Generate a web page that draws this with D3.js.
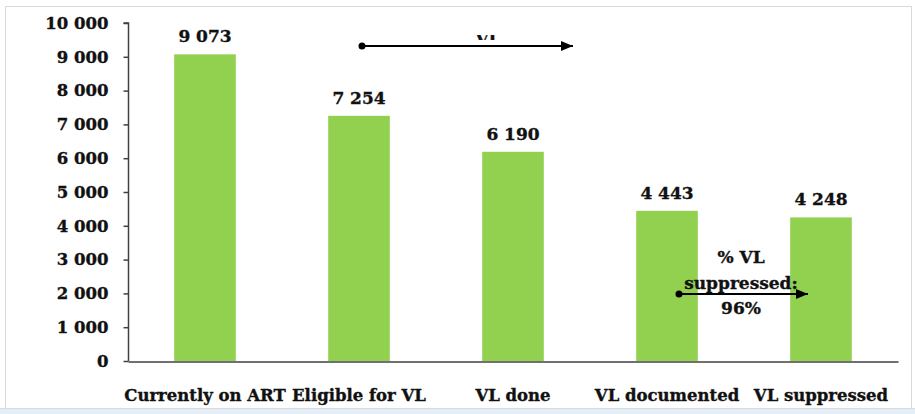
<!DOCTYPE html>
<html>
<head>
<meta charset="utf-8">
<script src="https://cdn.jsdelivr.net/npm/d3@7"></script>
<style>
  html, body { margin: 0; padding: 0; background: #ffffff; }
  svg { display: block; }
  text { font-family: "DejaVu Serif", "Liberation Serif", serif; font-weight: bold; fill: #111; stroke: #111; stroke-width: 0.35px; }
</style>
</head>
<body>
<svg id="chart" width="915" height="414"></svg>
<script>
// Viral load cascade
const categories = ["Currently on ART", "Eligible for VL", "VL done", "VL documented", "VL suppressed"];
const values = [9073, 7254, 6190, 4443, 4248];
const yTicks = [0, 1000, 2000, 3000, 4000, 5000, 6000, 7000, 8000, 9000, 10000];
const suppressionNote = ["% VL", "suppressed:", "96%"];

const svg = d3.select("#chart");
const W = 915, H = 414;

// Outer frame and the light strip below it
svg.append("rect").attr("x", 0).attr("y", 408).attr("width", W).attr("height", H - 408)
  .attr("fill", "#e4eef8");
svg.append("line").attr("x1", 0).attr("x2", W).attr("y1", 408.5).attr("y2", 408.5)
  .attr("stroke", "#d4dce6");
svg.append("rect").attr("x", 5.5).attr("y", 6.5).attr("width", 906).attr("height", 402)
  .attr("fill", "none").attr("stroke", "#d9d9d9");

const x = d3.scaleBand().domain(categories).range([128, 898]).paddingInner(0.6).paddingOuter(0.3);
const y = d3.scaleLinear().domain([0, 10000]).range([361, 23]);

const fmt = d3.formatLocale({ decimal: ".", thousands: " ", grouping: [3], currency: ["", ""] }).format(",d");

// Bars
svg.append("g").selectAll("rect").data(values).join("rect")
  .attr("x", (d, i) => x(categories[i]))
  .attr("y", d => y(d))
  .attr("width", x.bandwidth())
  .attr("height", d => y(0) - y(d))
  .attr("fill", "#92d050");

// Y axis
const yAxis = svg.append("g").attr("transform", "translate(128.5,0)")
  .call(d3.axisLeft(y).tickValues(yTicks).tickFormat(fmt).tickSize(5).tickPadding(15));
yAxis.select(".domain").attr("stroke", "#404040").attr("stroke-width", 1.5).attr("d", `M-5,${y(10000)}H0V${y(0)}`);
yAxis.selectAll(".tick line").attr("stroke", "#404040").attr("stroke-width", 1.5);
yAxis.selectAll(".tick text").style("font-size", "16.5px").attr("fill", "#111")
  .style("font-family", "DejaVu Serif").style("font-weight", "bold");

// X axis
const xAxis = svg.append("g").attr("transform", `translate(0,${y(0) + 0.5})`)
  .call(d3.axisBottom(x).tickSize(0).tickPadding(28));
xAxis.select(".domain").attr("stroke", "#404040").attr("stroke-width", 1.5);
xAxis.selectAll(".tick text").style("font-size", "16.5px").attr("fill", "#111")
  .style("font-family", "DejaVu Serif").style("font-weight", "bold");

// Value labels
svg.append("g").selectAll("text").data(values).join("text")
  .attr("x", (d, i) => x(categories[i]) + x.bandwidth() / 2)
  .attr("y", d => y(d) - 12)
  .attr("text-anchor", "middle")
  .style("font-size", "17px")
  .text(d => fmt(d));

// Arrow marker
const defs = svg.append("defs");
defs.append("marker").attr("id", "arrowhead")
  .attr("viewBox", "0 0 12 10").attr("refX", 12).attr("refY", 5)
  .attr("markerWidth", 12).attr("markerHeight", 10).attr("markerUnits", "userSpaceOnUse")
  .attr("orient", "auto")
  .append("path").attr("d", "M0,0L12,5L0,10Z").attr("fill", "#000");

function arrow(x1, x2, yy) {
  const g = svg.append("g");
  g.append("line").attr("x1", x1).attr("x2", x2).attr("y1", yy).attr("y2", yy)
    .attr("stroke", "#000").attr("stroke-width", 2).attr("marker-end", "url(#arrowhead)");
  g.append("circle").attr("cx", x1).attr("cy", yy).attr("r", 3.5).attr("fill", "#000");
}

// Top annotation: text box cut off by its own frame
defs.append("clipPath").attr("id", "topBox")
  .append("rect").attr("x", 440).attr("y", 35).attr("width", 100).attr("height", 5);
svg.append("text").attr("x", 488).attr("y", 45).attr("text-anchor", "middle")
  .attr("clip-path", "url(#topBox)").style("font-size", "17px").text("VL");
arrow(362, 573, 46);

// Suppression annotation
arrow(679, 808, 294);
svg.append("g").selectAll("text").data(suppressionNote).join("text")
  .attr("x", 741)
  .attr("y", (d, i) => 263 + i * 25.5)
  .attr("text-anchor", "middle")
  .style("font-size", "17px")
  .text(d => d);
</script>
</body>
</html>
